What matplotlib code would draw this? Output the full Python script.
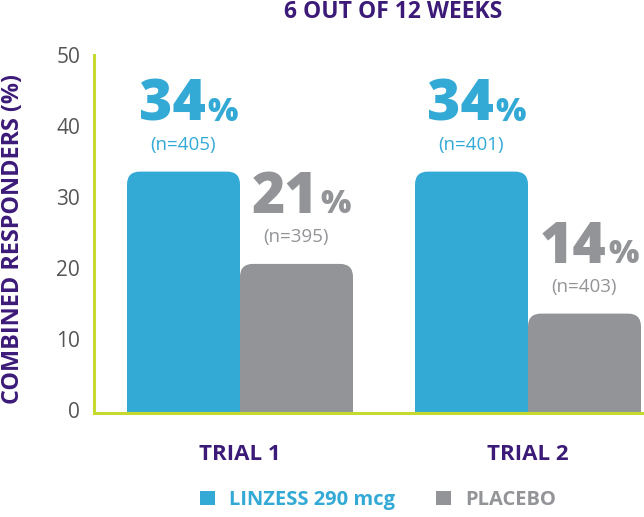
import matplotlib
matplotlib.use("Agg")
import matplotlib.pyplot as plt
from matplotlib.patches import FancyBboxPatch
import matplotlib.transforms as mtransforms

# ---- data ----
trials = ["TRIAL 1", "TRIAL 2"]
series_names = ["LINZESS 290 mcg", "PLACEBO"]
linzess = [34, 34]
placebo = [21, 14]
linzess_n = ["(n=405)", "(n=401)"]
placebo_n = ["(n=395)", "(n=403)"]
yticks = [0, 10, 20, 30, 40, 50]

BLUE = "#33a9d5"
GRAY = "#929497"
PURPLE = "#3c1a78"
GREEN = "#c6d92e"
TICKGRAY = "#555555"
FONT = "Open Sans"

W, H = 644, 517
fig = plt.figure(figsize=(W / 100, H / 100), dpi=100)
ax = fig.add_axes([94 / W, 104 / H, (W - 94) / W, (413 - 55) / H])

group_px = 288.0
bar_w = 113 / group_px
x = list(range(len(trials)))
px_per_y = 7.1
ymax = 358 / px_per_y
ax.set_xlim(-146 / group_px, 1 + 116 / group_px)
ax.set_ylim(0, ymax)

bars_l = ax.bar([xi - bar_w / 2 for xi in x], linzess, width=bar_w, color=BLUE)
bars_p = ax.bar([xi + bar_w / 2 for xi in x], placebo, width=bar_w, color=GRAY)

# replace bars with rounded-top versions
r_px = 13
r = r_px / group_px
aspect = (r_px / px_per_y) / r
for b in list(bars_l) + list(bars_p):
    b.set_visible(False)
    bx, bw, bh = b.get_x(), b.get_width(), b.get_height()
    ext = 3.0
    p = FancyBboxPatch((bx, -ext), bw, bh + ext,
                       boxstyle=f"round,pad=0,rounding_size={r}",
                       mutation_aspect=aspect, facecolor=b.get_facecolor(),
                       edgecolor="none", clip_on=True)
    ax.add_patch(p)

# value labels
def label(bar, val, ntext, color):
    cx = bar.get_x() + bar.get_width() / 2
    top = bar.get_height()
    ax.annotate(f"{val}", (cx, top), xytext=(22, 51), textcoords="offset pixels",
                ha="right", va="baseline", color=color, fontsize=41,
                fontweight="heavy", family=FONT)
    ax.annotate("%", (cx, top), xytext=(24, 51), textcoords="offset pixels",
                ha="left", va="baseline", color=color, fontsize=23,
                fontweight="heavy", family=FONT)
    ax.annotate(ntext, (cx, top), xytext=(0, 27), textcoords="offset pixels",
                ha="center", va="center", color=color, fontsize=13.5,
                family=FONT)

for i in range(len(trials)):
    label(bars_l[i], linzess[i], linzess_n[i], BLUE)
    label(bars_p[i], placebo[i], placebo_n[i], GRAY)

# axes styling
for s in ["top", "right"]:
    ax.spines[s].set_visible(False)
for s in ["left", "bottom"]:
    ax.spines[s].set_color(GREEN)
    ax.spines[s].set_linewidth(2.2)
ax.set_yticks(yticks)
ax.set_yticklabels([str(t) for t in yticks], family=FONT, fontsize=15, color=TICKGRAY)
ax.tick_params(axis="y", length=0, pad=10)
offset = mtransforms.ScaledTranslation(0, 3 / 100, fig.dpi_scale_trans)
for t in ax.get_yticklabels():
    t.set_transform(t.get_transform() + offset)
ax.set_xticks(x)
ax.set_xticklabels(trials, family=FONT, fontsize=16, fontweight="bold", color=PURPLE)
ax.tick_params(axis="x", length=0, pad=22)

fig.text(13 / W, 1 - 239 / H, "COMBINED RESPONDERS (%)", rotation=90,
         ha="center", va="center", family=FONT, fontsize=16.8,
         fontweight="bold", color=PURPLE)

fig.text(393 / W, 1 - 12 / H, "6 OUT OF 12 WEEKS", ha="center", va="center",
         family=FONT, fontsize=16.5, fontweight="bold", color=PURPLE)

# legend
leg = fig.legend(handles=[bars_l[0], bars_p[0]], labels=series_names,
                 loc="center", bbox_to_anchor=(378 / W, 1 - 500 / H), ncol=2,
                 frameon=False, handlelength=0.75, handleheight=0.75,
                 handletextpad=0.7, columnspacing=2.0,
                 prop={"family": FONT, "weight": "bold", "size": 14.5})
for h in leg.legend_handles:
    h.set_visible(True)
for t, c in zip(leg.get_texts(), [BLUE, GRAY]):
    t.set_color(c)

fig.savefig("out.png", dpi=100)
